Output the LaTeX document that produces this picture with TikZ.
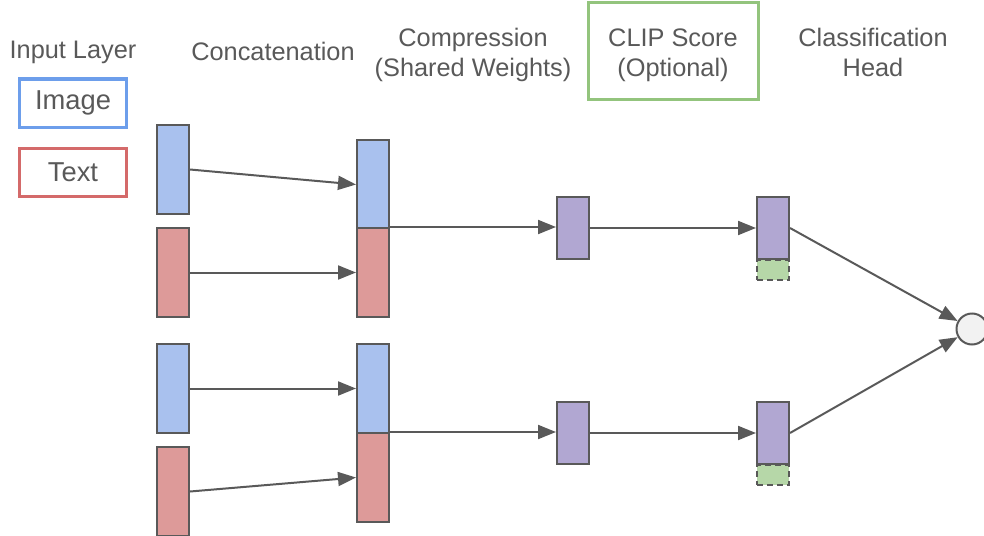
\documentclass[tikz,border=0pt]{standalone}
\usepackage{fontspec}
\setmainfont{Liberation Sans}
\usepackage{tikz}
\usetikzlibrary{arrows.meta}

\definecolor{linegray}{HTML}{595959}
\definecolor{imgfill}{HTML}{A9C1EE}
\definecolor{imgline}{HTML}{6D9EEB}
\definecolor{txtfill}{HTML}{DD9A99}
\definecolor{txtline}{HTML}{D46A6A}
\definecolor{cmpfill}{HTML}{B1A7D2}
\definecolor{clipfill}{HTML}{B6D7A8}
\definecolor{clipline}{HTML}{93C47D}

\tikzset{
  label/.style={text=linegray, font=\fontsize{19}{22.5}\selectfont, align=center},
  vec/.style={draw=linegray, line width=1.5pt, inner sep=0, minimum width=24pt, anchor=north west},
  invec/.style={vec, minimum height=66.75pt},
  cmpvec/.style={vec, fill=cmpfill, minimum height=46.5pt},
  clipvec/.style={vec, fill=clipfill, dash pattern=on 4.5pt off 3pt, minimum height=15pt},
  legend/.style={label, font=\fontsize{20.5}{24}\selectfont, line width=2.25pt, minimum width=80pt, minimum height=36pt, inner sep=0},
  flow/.style={draw=linegray, line width=1.5pt, -{Triangle[length=13.5pt, width=10.5pt]}}
}

\begin{document}
\begin{tikzpicture}[x=0.75pt, y=-0.75pt]
  \useasboundingbox (0,0) rectangle (984,535);

  % column titles
  \node[label] (tin) at (73,52) {Input Layer};
  \node[label] (tcat) at (273,51) {Concatenation};
  \node[label] (tcmp) at (473,55) {Compression\\(Shared Weights)};
  \node[label] (tclip) at (673,55) {CLIP Score\\(Optional)};
  \draw[clipline, line width=2.25pt] (588,3) rectangle (758,99);
  \node[label] (thead) at (873,52) {Classification\\Head};

  % legend
  \node[legend, draw=imgline] (limg) at (73,103) {Image};
  \node[legend, draw=txtline] (ltxt) at (73,172.5) {Text};

  % upper pair
  \node[invec, fill=imgfill] (img1) at (156,124) {};
  \node[invec, fill=txtfill] (txt1) at (156,227) {};
  \node[invec, fill=imgfill] (cimg1) at (356,139) {};
  \node[invec, fill=txtfill] (ctxt1) at (356,227) {};
  \node[cmpvec] (cmp1) at (556,196) {};
  \node[cmpvec] (head1) at (756,196) {};
  \node[clipvec] (clip1) at (756,259) {};

  % lower pair
  \node[invec, fill=imgfill] (img2) at (156,343) {};
  \node[invec, fill=txtfill] (txt2) at (156,446) {};
  \node[invec, fill=imgfill] (cimg2) at (356,343) {};
  \node[invec, fill=txtfill] (ctxt2) at (356,432) {};
  \node[cmpvec] (cmp2) at (556,401) {};
  \node[cmpvec] (head2) at (756,401) {};
  \node[clipvec] (clip2) at (756,464) {};

  % output
  \node[circle, draw=linegray, fill=black!5, line width=1.5pt, minimum size=23.25pt, inner sep=0] (out) at (972,329) {};

  % connections
  \draw[flow] (img1.east) -- (cimg1.west);
  \draw[flow] (txt1.east) -- (ctxt1.west);
  \draw[flow] (ctxt1.north east) -- (ctxt1.north east -| cmp1.west);
  \draw[flow] (cmp1.east) -- (head1.west);
  \draw[flow] (head1.east) -- (out);

  \draw[flow] (img2.east) -- (cimg2.west);
  \draw[flow] (txt2.east) -- (ctxt2.west);
  \draw[flow] (ctxt2.north east) -- (ctxt2.north east -| cmp2.west);
  \draw[flow] (cmp2.east) -- (head2.west);
  \draw[flow] (head2.east) -- (out);
\end{tikzpicture}
\end{document}
